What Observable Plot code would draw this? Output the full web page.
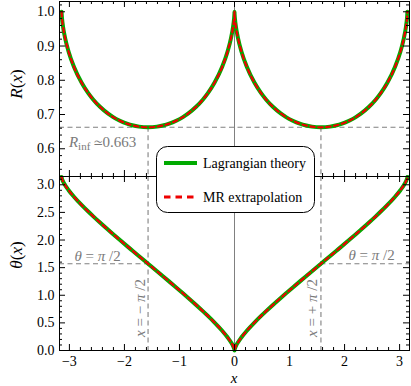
<!DOCTYPE html>
<html><head><meta charset="utf-8">
<script src="https://cdn.jsdelivr.net/npm/d3@7"></script>
<script src="https://cdn.jsdelivr.net/npm/@observablehq/plot@0.6"></script>
<style>
body{margin:0;background:#fff;}
#chart{position:relative;width:411px;height:386px;}
#chart > svg{position:absolute;left:0;overflow:visible;}
</style></head><body><div id="chart"></div>
<script>
// ---- data ----
const xValues = [-3.1416,-3.1411,-3.1388,-3.1336,-3.1145,-3.0771,-3.0144,-2.9180,-2.7751,-2.6580,-2.5615,-2.4444,-2.2965,-2.2045,-2.0921,-1.9414,-1.8576,-1.7334,-1.5708,-1.4082,-1.2840,-1.2002,-1.0495,-0.9371,-0.8451,-0.6972,-0.5801,-0.4836,-0.3665,-0.2236,-0.1272,-0.0645,-0.0271,-0.008,-0.00275,-0.0005,
  0,0.0005,0.00275,0.008,0.0271,0.0645,0.1272,0.2236,0.3665,0.4836,0.5801,0.6972,0.8451,0.9371,1.0495,1.2002,1.2840,1.4082,1.5708,1.7334,1.8576,1.9414,2.0921,2.2045,2.2965,2.4444,2.5615,2.6580,2.7751,2.9180,3.0144,3.0771,3.1145,3.1336,3.1388,3.1411,3.1416];
const rValues = [1,0.9967,0.9899,0.9796,0.9550,0.9225,0.8834,0.8393,0.7919,0.7625,0.7426,0.7226,0.7026,0.6925,0.6826,0.6726,0.6686,0.6646,0.6627,0.6646,0.6686,0.6726,0.6826,0.6925,0.7026,0.7226,0.7426,0.7625,0.7919,0.8393,0.8834,0.9225,0.9550,0.9796,0.9899,0.9967,
  1,0.9967,0.9899,0.9796,0.9550,0.9225,0.8834,0.8393,0.7919,0.7625,0.7426,0.7226,0.7026,0.6925,0.6826,0.6726,0.6686,0.6646,0.6627,0.6646,0.6686,0.6726,0.6826,0.6925,0.7026,0.7226,0.7426,0.7625,0.7919,0.8393,0.8834,0.9225,0.9550,0.9796,0.9899,0.9967,1];
const thetaValues = [3.1416,3.1358,3.1238,3.1052,3.0588,2.9918,2.9018,2.7844,2.6311,2.5154,2.4241,2.3168,2.1855,2.1054,2.0088,1.8809,1.8104,1.7064,1.5708,1.4352,1.3312,1.2607,1.1328,1.0362,0.9561,0.8248,0.7175,0.6262,0.5105,0.3572,0.2398,0.1498,0.0828,0.0364,0.0178,0.0058,
  0,0.0058,0.0178,0.0364,0.0828,0.1498,0.2398,0.3572,0.5105,0.6262,0.7175,0.8248,0.9561,1.0362,1.1328,1.2607,1.3312,1.4352,1.5708,1.7064,1.8104,1.8809,2.0088,2.1054,2.1855,2.3168,2.4241,2.5154,2.6311,2.7844,2.9018,2.9918,3.0588,3.1052,3.1238,3.1358,3.1416];
const rInf = 0.663;
const halfPi = Math.PI / 2;
const xTicks = [-3,-2,-1,0,1,2,3];
const rTicks = [0.6,0.7,0.8,0.9,1.0];
const thetaTicks = [0,0.5,1,1.5,2,2.5,3];
const seriesNames = ["Lagrangian theory","MR extrapolation"];

// ---- layout / style ----
const FONT = "'Liberation Serif','Times New Roman',Times,'Nimbus Roman',Tinos,FreeSerif,'Noto Serif','DejaVu Serif',serif";
const W = 411, ML = 59, MR = 2;
const xDomain = [-3.18, 3.18];
const rDomain = [0.519, 1.03];
const tDomain = [0, 3.15];
const green = "#00aa00", red = "#ee0000", gray = "#808080";
const dash = {stroke: gray, strokeWidth: 1.1, strokeDasharray: "5,3.5"};
const data = xValues.map((x, i) => ({x, r: rValues[i], th: thetaValues[i]}));
const frameW = W - ML - MR;

function tickMarks(xt, xMinor, yt, yMinor, frameH) {
  return [
    Plot.tickX(xt, {x: d => d, insetTop: frameH - 6, stroke: "#000"}),
    Plot.tickX(xt, {x: d => d, insetBottom: frameH - 6, stroke: "#000"}),
    Plot.tickX(xMinor, {x: d => d, insetTop: frameH - 3, stroke: "#000"}),
    Plot.tickX(xMinor, {x: d => d, insetBottom: frameH - 3, stroke: "#000"}),
    Plot.tickY(yt, {y: d => d, insetRight: frameW - 6, stroke: "#000"}),
    Plot.tickY(yt, {y: d => d, insetLeft: frameW - 6, stroke: "#000"}),
    Plot.tickY(yMinor, {y: d => d, insetRight: frameW - 3, stroke: "#000"}),
    Plot.tickY(yMinor, {y: d => d, insetLeft: frameW - 3, stroke: "#000"})
  ];
}
const xMinor = d3.range(-3.0, 3.01, 0.2).map(v => +v.toFixed(2)).filter(v => !xTicks.includes(v));
const rMinor = d3.range(0.52, 1.03, 0.02).map(v => +v.toFixed(2)).filter(v => !rTicks.some(t => Math.abs(t - v) < 1e-6));
const tMinor = d3.range(0, 3.15, 0.1).map(v => +v.toFixed(2)).filter(v => !thetaTicks.some(t => Math.abs(t - v) < 1e-6));

const styleObj = {fontFamily: FONT, fontSize: "14px", color: "#000", background: "transparent", overflow: "visible"};

const topH = 176;
const topPlot = Plot.plot({
  width: W, height: topH, marginLeft: ML, marginRight: MR, marginTop: 1, marginBottom: 0,
  x: {domain: xDomain, axis: null},
  y: {domain: rDomain, axis: null},
  style: styleObj,
  marks: [
    Plot.ruleX([0], {stroke: gray, strokeWidth: 1}),
    Plot.ruleY([rInf], dash),
    Plot.ruleX([-halfPi, halfPi], {y1: rInf, y2: rDomain[0], ...dash}),
    Plot.line(data, {x: "x", y: "r", stroke: green, strokeWidth: 4, curve: "monotone-x"}),
    Plot.line(data, {x: "x", y: "r", stroke: red, strokeWidth: 2.2, strokeDasharray: "4.5,3.5", curve: "monotone-x"}),
    ...tickMarks(xTicks, xMinor, rTicks, rMinor, topH - 1),
    Plot.frame({stroke: "#000"}),
    Plot.axisY({ticks: rTicks, tickSize: 0, tickPadding: 5, tickFormat: d3.format(".1f"), label: null, fontFamily: FONT})
  ]
});

const botFrameH = 174, botH = botFrameH + 36;
const botPlot = Plot.plot({
  width: W, height: botH, marginLeft: ML, marginRight: MR, marginTop: 0, marginBottom: 36,
  x: {domain: xDomain, axis: null},
  y: {domain: tDomain, axis: null},
  style: styleObj,
  marks: [
    Plot.ruleX([0], {stroke: gray, strokeWidth: 1}),
    Plot.ruleX([-halfPi, halfPi], dash),
    Plot.ruleY([halfPi], {x1: xDomain[0], x2: -halfPi, ...dash}),
    Plot.ruleY([halfPi], {x1: halfPi, x2: xDomain[1], ...dash}),
    Plot.line(data, {x: "x", y: "th", stroke: green, strokeWidth: 4, curve: "monotone-x"}),
    Plot.line(data, {x: "x", y: "th", stroke: red, strokeWidth: 2.2, strokeDasharray: "4.5,3.5", curve: "monotone-x"}),
    ...tickMarks(xTicks, xMinor, thetaTicks, tMinor, botFrameH),
    Plot.frame({stroke: "#000"}),
    Plot.axisX({ticks: xTicks, tickSize: 0, tickPadding: 6, tickFormat: d3.format("d"), label: null, fontFamily: FONT}),
    Plot.axisY({ticks: thetaTicks, tickSize: 0, tickPadding: 5, tickFormat: d3.format(".1f"), label: null, fontFamily: FONT})
  ]
});

const chart = document.getElementById("chart");
topPlot.style.top = "0px";
botPlot.style.top = topH + "px";
chart.appendChild(topPlot);
chart.appendChild(botPlot);

function rich(svg, x, y, parts, {size = 15, fill = "#000", anchor = "start", rotate = 0} = {}) {
  const t = d3.select(svg).append("text")
    .attr("transform", `translate(${x},${y}) rotate(${rotate})`)
    .attr("text-anchor", anchor).attr("font-size", size).attr("fill", fill)
    .attr("font-family", FONT);
  for (const p of parts) {
    const ts = t.append("tspan").text(p.t);
    if (p.i) ts.attr("font-style", "italic");
    if (p.size) ts.attr("font-size", p.size);
    if (p.dy) ts.attr("dy", p.dy);
  }
  return t;
}
const sxT = topPlot.scale("x");
const sxB = botPlot.scale("x");

// axis titles
rich(topPlot, 22, 84, [{t: "R", i: 1}, {t: "("}, {t: "x", i: 1}, {t: ")"}], {size: 17, anchor: "middle", rotate: -90});
rich(botPlot, 22, 255 - topH, [{t: "θ", i: 1}, {t: "("}, {t: "x", i: 1}, {t: ")"}], {size: 17, anchor: "middle", rotate: -90});
rich(botPlot, sxB.apply(0), 383 - topH, [{t: "x", i: 1}], {size: 15, anchor: "middle"});

// annotations
rich(topPlot, sxT.apply(-3.0), 146.5, [{t: "R", i: 1}, {t: "inf", size: 11, dy: 3}, {t: " ≃0.663", dy: -3}], {size: 15, fill: "#7a7a7a"});
rich(botPlot, sxB.apply(-2.9), 260.5 - topH, [{t: "θ", i: 1}, {t: " = "}, {t: "π", i: 1}, {t: " /2"}], {size: 15, fill: "#7a7a7a"});
rich(botPlot, sxB.apply(2.08), 260 - topH, [{t: "θ", i: 1}, {t: " = "}, {t: "π", i: 1}, {t: " /2"}], {size: 15, fill: "#7a7a7a"});
rich(botPlot, sxB.apply(-halfPi) - 3, 308 - topH, [{t: "x", i: 1}, {t: " = − "}, {t: "π", i: 1}, {t: " /2"}], {size: 15, fill: "#7a7a7a", anchor: "middle", rotate: -90});
rich(botPlot, sxB.apply(halfPi) - 3, 308 - topH, [{t: "x", i: 1}, {t: " = + "}, {t: "π", i: 1}, {t: " /2"}], {size: 15, fill: "#7a7a7a", anchor: "middle", rotate: -90});

// legend
const leg = d3.select(chart).append("svg").attr("width", 160).attr("height", 70)
  .style("left", "156px").style("top", "146px").style("position", "absolute");
leg.append("rect").attr("x", 0.5).attr("y", 0.5).attr("width", 158).attr("height", 66)
  .attr("rx", 11).attr("fill", "#fff").attr("stroke", "#000");
const rowsY = [17, 51];
leg.append("line").attr("x1", 8).attr("x2", 41).attr("y1", rowsY[0]).attr("y2", rowsY[0]).attr("stroke", green).attr("stroke-width", 4);
leg.append("line").attr("x1", 8).attr("x2", 41).attr("y1", rowsY[1]).attr("y2", rowsY[1]).attr("stroke", red).attr("stroke-width", 3).attr("stroke-dasharray", "6.5,5");
seriesNames.forEach((s, i) => leg.append("text").attr("x", 47).attr("y", rowsY[i] + 5)
  .attr("font-family", FONT).attr("font-size", 14).text(s));
</script></body></html>
